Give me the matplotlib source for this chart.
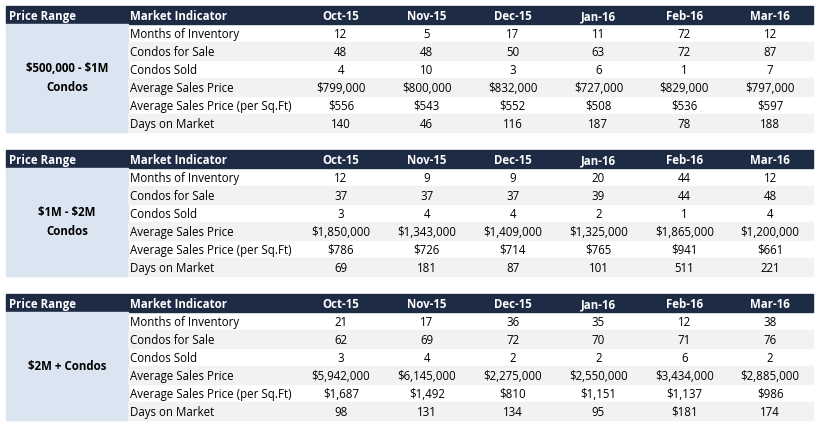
import matplotlib.pyplot as plt
from matplotlib.patches import Rectangle

months = ['Oct-15', 'Nov-15', 'Dec-15', 'Jan-16', 'Feb-16', 'Mar-16']
indicators = ['Months of Inventory', 'Condos for Sale', 'Condos Sold',
              'Average Sales Price', 'Average Sales Price (per Sq.Ft)', 'Days on Market']
ranges = ['$500,000 - $1M\nCondos', '$1M - $2M\nCondos', '$2M + Condos']

tbl_low = [
    ['12', '5', '17', '11', '72', '12'],
    ['48', '48', '50', '63', '72', '87'],
    ['4', '10', '3', '6', '1', '7'],
    ['$799,000', '$800,000', '$832,000', '$727,000', '$829,000', '$797,000'],
    ['$556', '$543', '$552', '$508', '$536', '$597'],
    ['140', '46', '116', '187', '78', '188'],
]
tbl_mid = [
    ['12', '9', '9', '20', '44', '12'],
    ['37', '37', '37', '39', '44', '48'],
    ['3', '4', '4', '2', '1', '4'],
    ['$1,850,000', '$1,343,000', '$1,409,000', '$1,325,000', '$1,865,000', '$1,200,000'],
    ['$786', '$726', '$714', '$765', '$941', '$661'],
    ['69', '181', '87', '101', '511', '221'],
]
tbl_high = [
    ['21', '17', '36', '35', '12', '38'],
    ['62', '69', '72', '70', '71', '76'],
    ['3', '4', '2', '2', '6', '2'],
    ['$5,942,000', '$6,145,000', '$2,275,000', '$2,550,000', '$3,434,000', '$2,885,000'],
    ['$1,687', '$1,492', '$810', '$1,151', '$1,137', '$986'],
    ['98', '131', '134', '95', '$181', '174'],
]
tables = [tbl_low, tbl_mid, tbl_high]

plt.rcParams['font.family'] = ['Open Sans', 'DejaVu Sans']
plt.rcParams['text.parse_math'] = False
fig = plt.figure(figsize=(8.15, 4.29), dpi=100)
ax = fig.add_axes([0, 0, 1, 1])
ax.set_xlim(0, 815)
ax.set_ylim(429, 0)
ax.axis('off')

navy = '#1d2b45'
blue = '#dbe5f1'
grey = '#f2f2f2'
x0, x1, x2, xend = 6, 128, 298, 813
colw = (xend - x2) / 6
rowh = 18
fs = 8.3
va = 'center_baseline'

for t, (rng, data) in enumerate(zip(ranges, tables)):
    top = 6 + t * 144
    ax.add_patch(Rectangle((x0, top), xend - x0, rowh, color=navy))
    ax.text(x0 + 3, top + rowh / 2, 'Price Range', color='white', fontsize=fs,
            fontweight='bold', va=va)
    ax.text(x1 + 2, top + rowh / 2, 'Market Indicator', color='white', fontsize=fs,
            fontweight='bold', va=va)
    for j, m in enumerate(months):
        ax.text(x2 + colw * (j + 0.5), top + rowh / 2, m, color='white', fontsize=fs,
                fontweight='bold', va=va, ha='center')
    body = top + rowh
    ax.add_patch(Rectangle((x0, body), x1 - x0, rowh * 6, color=blue))
    ax.text((x0 + x1) / 2, body + rowh * 3, rng, fontsize=fs, fontweight='bold',
            ha='center', va='center', linespacing=1.6)
    for i, (ind, row) in enumerate(zip(indicators, data)):
        y = body + i * rowh
        if i % 2 == 1:
            ax.add_patch(Rectangle((x1, y), xend - x1, rowh, color=grey))
        ax.text(x1 + 2, y + rowh / 2, ind, fontsize=fs, va=va)
        for j, v in enumerate(row):
            ax.text(x2 + colw * (j + 0.5), y + rowh / 2, v, fontsize=fs,
                    va=va, ha='center')

fig.savefig('out.png', dpi=100)
